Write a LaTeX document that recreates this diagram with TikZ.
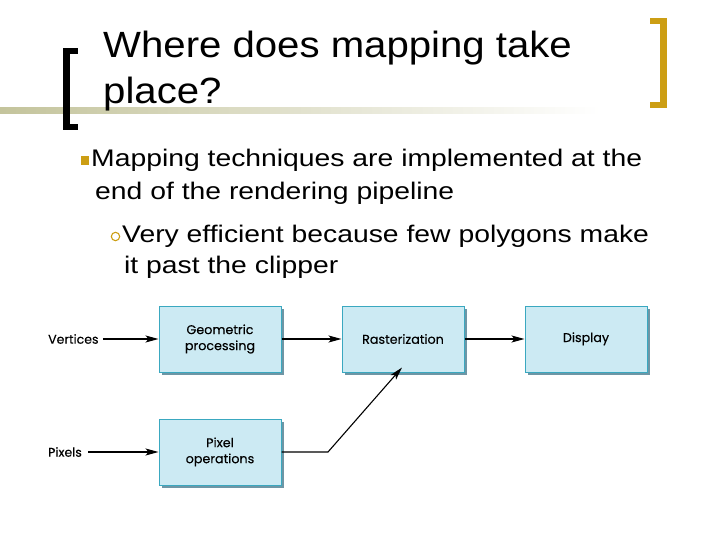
\documentclass[tikz,border=0pt]{standalone}
\usepackage{fontspec}
\setmainfont{Liberation Sans}
\newfontfamily\titlefont[FakeStretch=1.1]{Liberation Sans}
\newfontfamily\bodyfont[FakeStretch=1.18]{Liberation Sans}
\newfontfamily\diagfont[FakeBold=0.2]{Poppins}
\usetikzlibrary{arrows.meta}
\definecolor{gold}{RGB}{204,158,20}
\definecolor{olivebar}{RGB}{196,196,156}
\definecolor{boxfill}{RGB}{204,234,243}
\definecolor{boxline}{RGB}{58,168,192}
\definecolor{boxshadow}{RGB}{110,150,165}
\tikzset{
  pbox/.style={draw=boxline, line width=1pt, fill=boxfill, minimum width=122pt, minimum height=66pt,
    inner sep=0pt, align=center, font=\diagfont\fontsize{12.7}{16}\selectfont},
  lbl/.style={font=\diagfont\fontsize{12.5}{15}\selectfont, inner sep=0pt},
  arr/.style={-{Stealth[length=13pt,width=7pt,inset=3pt]}, line width=1.1pt},
  body/.style={anchor=base west, inner sep=0pt, font=\bodyfont\fontsize{24}{28}\selectfont},
  ttl/.style={anchor=base west, inner sep=0pt, font=\titlefont\fontsize{36.5}{44}\selectfont}
}
\begin{document}
\begin{tikzpicture}[x=1pt,y=-1pt]
\useasboundingbox (0,0) rectangle (720,540);
% gradient bar
\shade[left color=olivebar, right color=white] (0,108) rectangle (600,114);
% left bracket
\fill[black] (63,48) rectangle (70,130);
\fill[black] (63,48) rectangle (78,54);
\fill[black] (63,124) rectangle (78,130);
% right bracket
\fill[gold] (660,18) rectangle (667,108);
\fill[gold] (650,18) rectangle (667,24);
\fill[gold] (650,102) rectangle (667,108);
% title
\node[ttl] (t1) at (103,58) {Where does mapping take};
\node[ttl] (t2) at (103,104) {place?};
% bullets
\fill[gold] (81,156) rectangle (89,165);
\node[body] (b1) at (91,167) {Mapping techniques are implemented at the};
\node[body] (b2) at (95,200) {end of the rendering pipeline};
\draw[gold, line width=1.1pt] (115.5,236.5) circle[radius=4.2];
\node[body] (b3) at (122,242) {Very efficient because few polygons make};
\node[body] (b4) at (124,273) {it past the clipper};
% diagram
\foreach \n/\x/\y in {geo/220/339, ras/403/339, dis/586/339, pix/220/452}{
  \fill[boxshadow] (\x-61+3,\y-33+3) rectangle (\x+61+3,\y+33+3);
}
\node[pbox] (geo) at (220,339) {Geometric\\processing};
\node[pbox] (ras) at (403,339) {Rasterization};
\node[pbox, text height=9pt, text depth=3pt] (dis) at (586,339) {Display};
\node[pbox] (pix) at (220,452) {Pixel\\operations};
\node[lbl, anchor=west] (vert) at (48,339) {Vertices};
\node[lbl, anchor=west] (pixl) at (48,452) {Pixels};
\coordinate (bend) at (328,452);
\draw[arr] ([xshift=4pt]vert.east) -- (geo.west);
\draw[arr] ([xshift=6pt]pixl.east) -- (pix.west);
\draw[arr] (geo.east) -- (ras.west);
\draw[arr] (ras.east) -- (dis.west);
\draw[arr] (pix.east) -- (bend) -- ([xshift=-1pt,yshift=5pt]ras.south);
\end{tikzpicture}
\end{document}
